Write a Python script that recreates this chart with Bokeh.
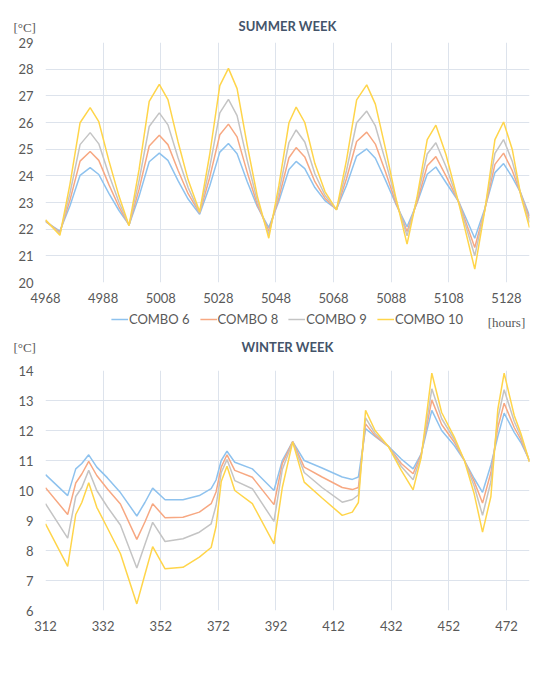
from bokeh.plotting import figure
from bokeh.layouts import column
from bokeh.models import FixedTicker, Legend, LegendItem, Range1d, LinearAxis
from bokeh.embed import file_html
from bokeh.resources import INLINE

series_labels = ["COMBO 6", "COMBO 8", "COMBO 9", "COMBO 10"]
series_colors = ["#8ec2ee", "#f7a882", "#c4c4c4", "#ffd54a"]

# ---------------- SUMMER WEEK ----------------
summer_hours = [4968, 4973, 4976.5, 4980, 4983.5, 4986.5, 4990, 4993.5, 4997,
                5000.5, 5004, 5007.5, 5010.5, 5014, 5017.5, 5021.5,
                5025, 5028.5, 5031.5, 5034.5, 5038, 5041.5, 5045.5,
                5049, 5052.5, 5055, 5058, 5061.5, 5065, 5069,
                5072.5, 5076, 5079.5, 5082.5, 5086, 5089.5, 5093.5,
                5097, 5100.5, 5103.5, 5107, 5111.5, 5117,
                5120.5, 5124, 5127, 5130, 5133, 5136]
summer_combo6 = [22.28, 21.93, 22.88, 24.02, 24.31, 24.05, 23.34, 22.70, 22.16,
                 23.24, 24.53, 24.85, 24.58, 23.82, 23.13, 22.56,
                 23.62, 24.89, 25.21, 24.83, 23.79, 22.85, 22.06,
                 23.05, 24.24, 24.54, 24.27, 23.56, 23.07, 22.75,
                 23.65, 24.74, 25.01, 24.66, 23.84, 22.97, 22.09,
                 22.99, 24.06, 24.33, 23.75, 23.02, 21.66,
                 22.78, 24.12, 24.46, 23.95, 23.35, 22.50]
summer_combo8 = [22.30, 21.88, 23.09, 24.55, 24.91, 24.58, 23.67, 22.84, 22.15,
                 23.50, 25.12, 25.52, 25.17, 24.21, 23.33, 22.60,
                 23.94, 25.54, 25.94, 25.46, 24.14, 22.93, 21.93,
                 23.18, 24.68, 25.06, 24.71, 23.78, 23.16, 22.74,
                 23.90, 25.29, 25.64, 25.19, 24.15, 23.03, 21.91,
                 23.03, 24.38, 24.72, 24.00, 23.00, 21.31,
                 22.73, 24.43, 24.85, 24.20, 23.32, 22.40]
summer_combo9 = [22.33, 21.83, 23.35, 25.17, 25.62, 25.20, 24.05, 23.01, 22.14,
                 23.83, 25.85, 26.36, 25.91, 24.68, 23.56, 22.62,
                 24.32, 26.36, 26.87, 26.26, 24.59, 23.07, 21.80,
                 23.37, 25.25, 25.72, 25.27, 24.08, 23.27, 22.73,
                 24.21, 25.99, 26.43, 25.87, 24.56, 23.15, 21.75,
                 23.15, 24.82, 25.24, 24.35, 22.98, 21.00,
                 22.74, 24.84, 25.36, 24.55, 23.30, 22.25]
summer_combo10 = [22.35, 21.77, 23.69, 25.99, 26.56, 26.03, 24.57, 23.24, 22.13,
                  24.25, 26.79, 27.43, 26.86, 25.28, 23.85, 22.65,
                  24.80, 27.38, 28.03, 27.27, 25.16, 23.25, 21.66,
                  23.63, 25.99, 26.58, 26.00, 24.46, 23.41, 22.72,
                  24.60, 26.85, 27.41, 26.69, 25.02, 23.23, 21.44,
                  23.22, 25.36, 25.90, 24.80, 22.95, 20.50,
                  22.71, 25.36, 26.02, 25.00, 23.25, 22.06]
summer_xticks = [4968, 4988, 5008, 5028, 5048, 5068, 5088, 5108, 5128]
summer_yticks = [20, 21, 22, 23, 24, 25, 26, 27, 28, 29]

# ---------------- WINTER WEEK ----------------
winter_hours = [312, 319.7, 322.5, 324.6, 327, 329.8, 333.5, 338, 343.7, 346.5,
                349.2, 353.5, 359.7, 365.4, 369.5, 371.2, 373, 375, 377.7, 383.8,
                391.3, 394.2, 397.8, 401.8, 408, 415, 418.5, 420.6, 423.1, 426.4,
                431, 435.5, 439.6, 442.4, 446.1, 449.5, 453.9, 457.4, 460.8, 463.7,
                466.6, 469, 471.2, 474.7, 477, 480]
winter_combo6 = [10.53, 9.83, 10.72, 10.90, 11.19, 10.78, 10.42, 9.93, 9.15, 9.60,
                 10.08, 9.69, 9.69, 9.83, 10.06, 10.35, 11.00, 11.31, 10.94, 10.72,
                 10.00, 11.00, 11.63, 11.00, 10.75, 10.45, 10.37, 10.45, 12.06, 11.80,
                 11.47, 11.05, 10.72, 11.22, 12.67, 12.00, 11.50, 11.00, 10.40, 9.94,
                 10.85, 11.80, 12.58, 11.94, 11.60, 11.00]
winter_combo8 = [10.09, 9.20, 10.25, 10.55, 10.97, 10.50, 10.05, 9.55, 8.37, 8.95,
                 9.56, 9.09, 9.11, 9.28, 9.56, 9.95, 10.78, 11.19, 10.67, 10.44,
                 9.53, 10.90, 11.63, 10.78, 10.45, 10.10, 10.03, 10.10, 12.22, 11.83,
                 11.47, 10.90, 10.56, 11.20, 13.02, 12.20, 11.61, 11.00, 10.30, 9.58,
                 10.60, 12.10, 12.91, 12.10, 11.70, 10.98]
winter_combo9 = [9.56, 8.41, 9.80, 10.10, 10.67, 10.00, 9.45, 8.85, 7.42, 8.20,
                 8.94, 8.30, 8.39, 8.61, 8.89, 9.50, 10.60, 11.03, 10.33, 10.06,
                 8.97, 10.70, 11.62, 10.60, 10.10, 9.61, 9.70, 9.85, 12.42, 11.90,
                 11.47, 10.80, 10.36, 11.15, 13.39, 12.40, 11.70, 11.00, 10.15, 9.17,
                 10.30, 12.40, 13.36, 12.30, 11.80, 10.96]
winter_combo10 = [8.89, 7.47, 9.20, 9.60, 10.26, 9.44, 8.75, 7.90, 6.22, 7.20,
                  8.13, 7.39, 7.44, 7.78, 8.10, 8.80, 10.30, 10.81, 10.00, 9.56,
                  8.22, 10.10, 11.62, 10.28, 9.75, 9.17, 9.28, 9.60, 12.67, 12.00,
                  11.47, 10.67, 10.02, 11.10, 13.91, 12.60, 11.78, 11.00, 9.89, 8.61,
                  9.80, 12.70, 13.91, 12.50, 11.90, 10.95]
winter_xticks = [312, 332, 352, 372, 392, 412, 432, 452, 472]
winter_yticks = [6, 7, 8, 9, 10, 11, 12, 13, 14]

unit_label = "[°C]"
hours_label = "[hours]"

FONT = "Lato"
SERIF = "Liberation Serif"
TXT = "#595959"
FRAME_W = 484


def text_axis(ticks, overrides, font, size, color, style, standoff):
    return LinearAxis(ticker=FixedTicker(ticks=ticks), major_label_overrides=overrides,
                      axis_line_color=None, major_tick_line_color=None,
                      minor_tick_line_color=None, major_tick_out=0, major_tick_in=0,
                      major_label_standoff=standoff, major_label_text_font=font,
                      major_label_text_font_size=size, major_label_text_color=color,
                      major_label_text_font_style=style)


def make_panel(title, hours, series, xticks, yticks, xr, yr, top, bottom,
               s_title, s_unit, leg_margin, s_hours):
    p = figure(frame_width=FRAME_W, frame_height=240,
               x_range=Range1d(*xr), y_range=Range1d(*yr),
               output_backend="svg", toolbar_location=None,
               min_border_left=45, min_border_right=10, min_border_top=top,
               min_border_bottom=bottom)
    p.extra_x_ranges = {"lab": Range1d(0, FRAME_W)}
    p.outline_line_color = None
    p.background_fill_color = "white"
    p.border_fill_color = "white"
    for ax in (p.xaxis[0], p.yaxis[0]):
        ax.axis_line_color = None
        ax.major_tick_line_color = None
        ax.minor_tick_line_color = None
        ax.major_tick_out = 0
        ax.major_tick_in = 0
        ax.major_label_text_color = TXT
        ax.major_label_text_font = FONT
        ax.major_label_text_font_size = "13px"
    p.xaxis[0].ticker = FixedTicker(ticks=xticks)
    p.yaxis[0].ticker = FixedTicker(ticks=yticks)
    p.xaxis[0].major_label_standoff = 10
    p.yaxis[0].major_label_standoff = 12
    p.xgrid.grid_line_color = "#dde3ec"
    p.ygrid.grid_line_color = "#dde3ec"
    p.xgrid.ticker = FixedTicker(ticks=xticks)
    p.ygrid.ticker = FixedTicker(ticks=yticks)

    # title row: chart title (inner) and unit label (outer, pulled down into same row)
    t_ax = text_axis([FRAME_W // 2], {FRAME_W // 2: title}, FONT, "13px", "#44546a",
                     "bold", s_title)
    t_ax.x_range_name = "lab"
    p.add_layout(t_ax, "above")
    u_ax = text_axis([0], {0: unit_label + "\u2003\u2003\u2003\u2009"}, SERIF, "13px", TXT,
                     "normal", s_unit)
    u_ax.x_range_name = "lab"
    p.add_layout(u_ax, "above")

    items = []
    for lab, col, vals in zip(series_labels, series_colors, series):
        r = p.line(hours, vals, line_color=col, line_width=1.5)
        items.append(LegendItem(label=lab, renderers=[r]))

    leg = Legend(items=items, orientation="horizontal", location="top_center",
                 border_line_color=None, background_fill_alpha=0,
                 label_text_font=FONT, label_text_font_size="13px",
                 label_text_color=TXT, glyph_width=17, glyph_height=12,
                 label_height=20, label_standoff=1, spacing=10, padding=0,
                 margin=leg_margin)
    p.add_layout(leg, "below")

    h_ax = text_axis([xticks[-1]], {xticks[-1]: hours_label}, SERIF, "13px", TXT,
                     "normal", s_hours)
    p.add_layout(h_ax, "below")
    return p


p1 = make_panel("SUMMER WEEK", summer_hours,
                [summer_combo6, summer_combo8, summer_combo9, summer_combo10],
                summer_xticks, summer_yticks, (4968, 5136), (20, 29),
                42, 53, 9, -20, 2, -15)
p2 = make_panel("WINTER WEEK", winter_hours,
                [winter_combo6, winter_combo8, winter_combo9, winter_combo10],
                winter_xticks, winter_yticks, (312, 480), (6, 14),
                33, 53, 16, -19, 2, -15)

layout = column(p1, p2, spacing=0)
open("out.html", "w").write(file_html(layout, INLINE))
